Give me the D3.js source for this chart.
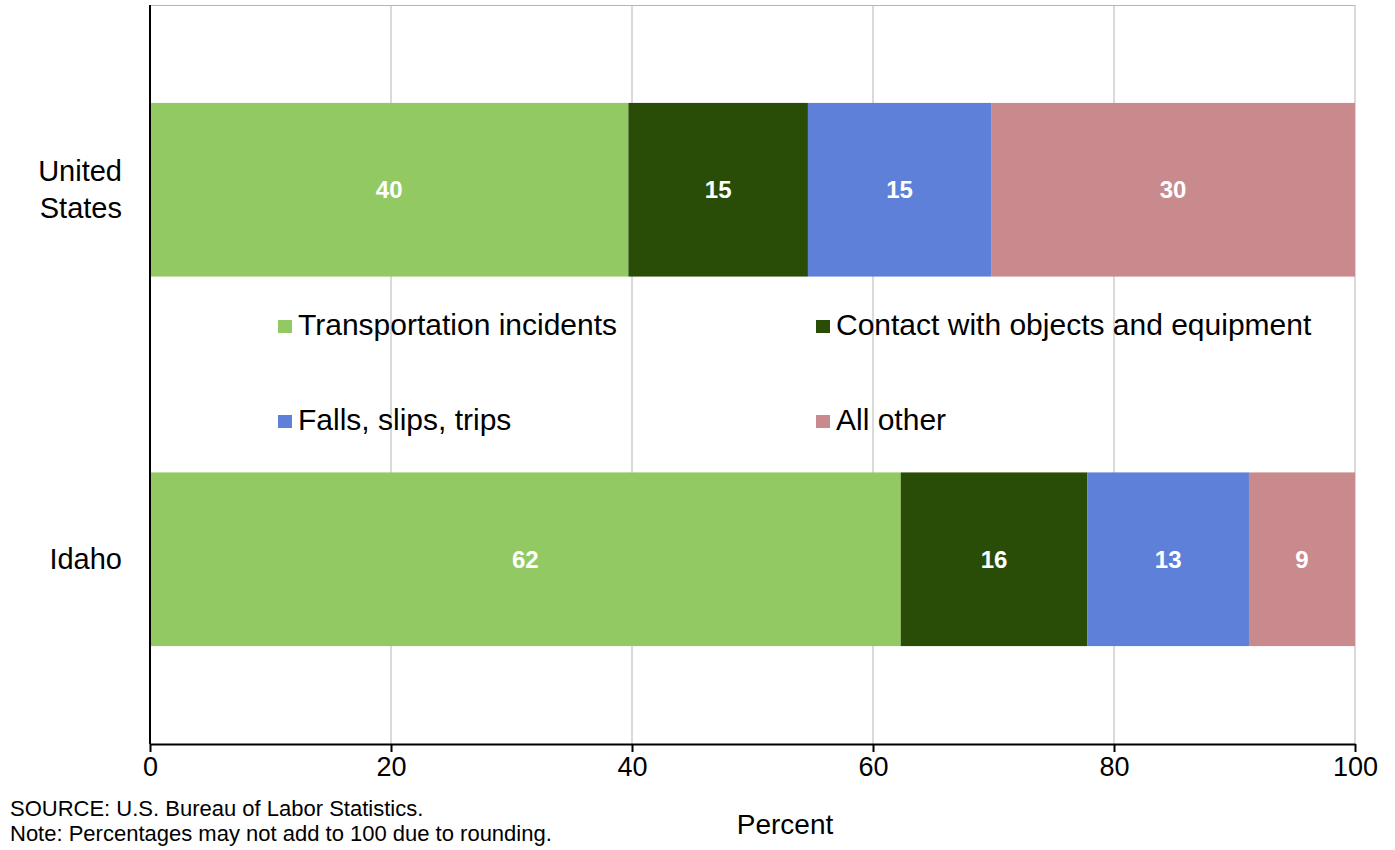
<!DOCTYPE html>
<html>
<head>
<meta charset="utf-8">
<script src="https://cdn.jsdelivr.net/npm/d3@7"></script>
<style>
  body { margin: 0; background: #fff; }
  svg text { font-family: "Liberation Sans", Arial, sans-serif; }
</style>
</head>
<body>
<div id="chart"></div>
<script>
// chart data
var places = ["United States", "Idaho"];
var series = ["Transportation incidents", "Contact with objects and equipment", "Falls, slips, trips", "All other"];
var usValues = [39.7, 14.9, 15.2, 30.2];
var idahoValues = [62.3, 15.5, 13.4, 8.8];
var xTicks = [0, 20, 40, 60, 80, 100];
var colors = ["#93c963", "#294d07", "#5e80d8", "#c98a8e"];

var width = 1395, height = 850;
var margin = {left: 150, right: 40, top: 5, bottom: 106};

var svg = d3.select("#chart").append("svg")
    .attr("width", width)
    .attr("height", height);

var x = d3.scaleLinear().domain([0, 100]).range([margin.left, width - margin.right]);
var y = d3.scaleBand().domain(places).range([margin.top, height - margin.bottom]).paddingInner(0.53).paddingOuter(0.265);

// grid lines
svg.selectAll(".grid")
  .data(xTicks.slice(1))
  .enter().append("line")
  .attr("x1", function(d){ return x(d); })
  .attr("x2", function(d){ return x(d); })
  .attr("y1", margin.top)
  .attr("y2", height - margin.bottom)
  .attr("stroke", "#b5b5b5")
  .attr("stroke-width", 1);

// top border
svg.append("line")
  .attr("x1", x(0)).attr("x2", x(100))
  .attr("y1", margin.top + 0.5).attr("y2", margin.top + 0.5)
  .attr("stroke", "#b5b5b5");

// stacked bars
var rows = [usValues, idahoValues];
rows.forEach(function(vals, r) {
  var start = 0;
  var segs = vals.map(function(v, i) {
    var s = {x0: start, x1: start + v, v: v, i: i};
    start += v;
    return s;
  });
  var g = svg.append("g");
  g.selectAll("rect")
    .data(segs)
    .enter().append("rect")
    .attr("x", function(d){ return x(d.x0); })
    .attr("width", function(d){ return x(d.x1) - x(d.x0); })
    .attr("y", y(places[r]))
    .attr("height", y.bandwidth())
    .attr("fill", function(d){ return colors[d.i]; });
  g.selectAll("text")
    .data(segs)
    .enter().append("text")
    .attr("x", function(d){ return (x(d.x0) + x(d.x1)) / 2; })
    .attr("y", y(places[r]) + y.bandwidth() / 2)
    .attr("dy", "0.36em")
    .attr("text-anchor", "middle")
    .attr("fill", "#fff")
    .attr("font-weight", "bold")
    .attr("font-size", 24)
    .text(function(d){ return Math.round(d.v); });
});

// x axis
var xAxis = svg.append("g")
  .attr("transform", "translate(0," + (height - margin.bottom) + ")")
  .call(d3.axisBottom(x).tickValues(xTicks).tickSize(8).tickSizeOuter(0));
xAxis.select(".domain").attr("stroke", "#000").attr("stroke-width", 2);
xAxis.selectAll(".tick line").attr("stroke", "#000").attr("stroke-width", 2);
xAxis.selectAll(".tick text").attr("font-size", 27).attr("fill", "#000").attr("y", 13).attr("dy", "0.71em")
  .style("font-family", "'Liberation Sans', Arial, sans-serif");

// y axis line
svg.append("line")
  .attr("x1", x(0)).attr("x2", x(0))
  .attr("y1", margin.top).attr("y2", height - margin.bottom)
  .attr("stroke", "#000").attr("stroke-width", 2);

// category labels
svg.selectAll(".cat")
  .data(places)
  .enter().append("text")
  .attr("text-anchor", "end")
  .attr("font-size", 29)
  .attr("fill", "#000")
  .each(function(d) {
    var t = d3.select(this);
    var words = d === "United States" ? ["United", "States"] : [d];
    var cy = y(d) + y.bandwidth() / 2;
    words.forEach(function(w, k) {
      t.append("tspan")
        .attr("x", 122)
        .attr("y", cy + 10 + (k - (words.length - 1) / 2) * 37)
        .text(w);
    });
  });

// legend
var legX = [278, 816], legY = [335, 430];
var legend = svg.selectAll(".leg")
  .data(series)
  .enter().append("g")
  .attr("transform", function(d, i){ return "translate(" + legX[i % 2] + "," + legY[Math.floor(i / 2)] + ")"; });
legend.append("rect")
  .attr("x", 0).attr("y", -15).attr("width", 14).attr("height", 13)
  .attr("fill", function(d, i){ return colors[i]; });
legend.append("text")
  .attr("x", 20).attr("y", 0)
  .attr("font-size", 30)
  .attr("fill", "#000")
  .text(function(d){ return d; });

// axis title
svg.append("text")
  .attr("x", 785).attr("y", 834)
  .attr("text-anchor", "middle")
  .attr("font-size", 28)
  .text("Percent");

// notes
svg.append("text").attr("x", 10).attr("y", 816).attr("font-size", 22)
  .text("SOURCE: U.S. Bureau of Labor Statistics.");
svg.append("text").attr("x", 10).attr("y", 841).attr("font-size", 22)
  .text("Note: Percentages may not add to 100 due to rounding.");
</script>
</body>
</html>
